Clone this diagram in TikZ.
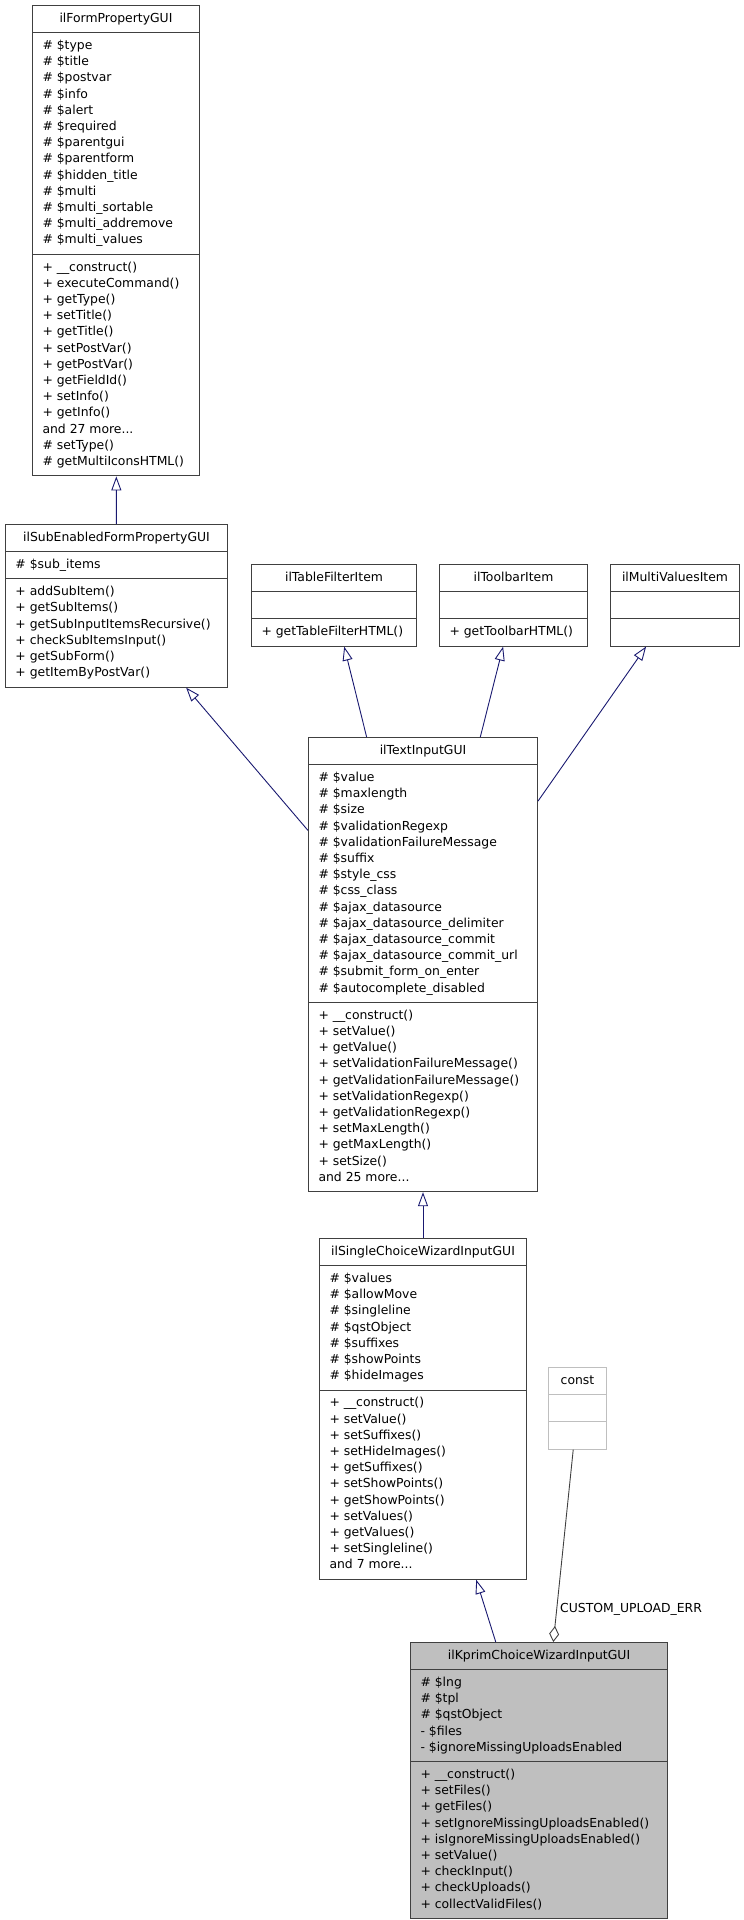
\documentclass[tikz,border=0pt]{standalone}
\usepackage{fontspec}
\setmainfont{DejaVu Sans}
\usetikzlibrary{shapes.multipart,arrows.meta}

\definecolor{rand}{HTML}{404040}
\definecolor{vererbung}{HTML}{191970}
\definecolor{grau}{HTML}{BFBFBF}

\begin{document}
\begin{tikzpicture}[
    x=1pt, y=-1pt,
    every node/.style={font=\fontsize{12.4}{16.2}\selectfont},
    klasse/.style={
        draw=rand, line width=1pt, fill=white,
        rectangle split, rectangle split parts=3,
        rectangle split part align={center,left,left},
        anchor=north west, align=left,
        inner xsep=10pt, inner ysep=5pt,
        minimum width=#1
    },
    erbt/.style={
        draw=vererbung, line width=0.9pt,
        -{Triangle[open, length=14pt, width=10pt]}
    },
    aggr/.style={
        draw=rand, line width=0.9pt,
        -{Diamond[open, length=16pt, width=10pt]}
    },
    rolle/.style={font=\fontsize{12.4}{14}\selectfont, inner sep=3pt}
]
\useasboundingbox (0,0) rectangle (744,1920);

% Basisklasse
\node[klasse=167pt] (formprop) at (32,5)
    {\strut ilFormPropertyGUI\strut
     \nodepart{two}\strut\# \$type\\
     \# \$title\\
     \# \$postvar\\
     \# \$info\\
     \# \$alert\\
     \# \$required\\
     \# \$parentgui\\
     \# \$parentform\\
     \# \$hidden\_title\\
     \# \$multi\\
     \# \$multi\_sortable\\
     \# \$multi\_addremove\\
     \# \$multi\_values\strut
     \nodepart{three}\strut+ \_\_construct()\\
     + executeCommand()\\
     + getType()\\
     + setTitle()\\
     + getTitle()\\
     + setPostVar()\\
     + getPostVar()\\
     + getFieldId()\\
     + setInfo()\\
     + getInfo()\\
     and 27 more...\\
     \# setType()\\
     \# getMultiIconsHTML()\strut};

\node[klasse=222pt] (subenabled) at (5,524)
    {\strut ilSubEnabledFormPropertyGUI\strut
     \nodepart{two}\strut\# \$sub\_items\strut
     \nodepart{three}\strut+ addSubItem()\\
     + getSubItems()\\
     + getSubInputItemsRecursive()\\
     + checkSubItemsInput()\\
     + getSubForm()\\
     + getItemByPostVar()\strut};

% Interfaces
\node[klasse=165pt] (tablefilter) at (251,564)
    {\strut ilTableFilterItem\strut
     \nodepart{two}\strut
     \nodepart{three}\strut+ getTableFilterHTML()\strut};
\node[klasse=148pt] (toolbar) at (439,564)
    {\strut ilToolbarItem\strut
     \nodepart{two}\strut
     \nodepart{three}\strut+ getToolbarHTML()\strut};
\node[klasse=129pt] (multivalues) at (610,564)
    {\strut ilMultiValuesItem\strut
     \nodepart{two}\strut
     \nodepart{three}\strut};

\node[klasse=229pt] (textinput) at (308,737)
    {\strut ilTextInputGUI\strut
     \nodepart{two}\strut\# \$value\\
     \# \$maxlength\\
     \# \$size\\
     \# \$validationRegexp\\
     \# \$validationFailureMessage\\
     \# \$suffix\\
     \# \$style\_css\\
     \# \$css\_class\\
     \# \$ajax\_datasource\\
     \# \$ajax\_datasource\_delimiter\\
     \# \$ajax\_datasource\_commit\\
     \# \$ajax\_datasource\_commit\_url\\
     \# \$submit\_form\_on\_enter\\
     \# \$autocomplete\_disabled\strut
     \nodepart{three}\strut+ \_\_construct()\\
     + setValue()\\
     + getValue()\\
     + setValidationFailureMessage()\\
     + getValidationFailureMessage()\\
     + setValidationRegexp()\\
     + getValidationRegexp()\\
     + setMaxLength()\\
     + getMaxLength()\\
     + setSize()\\
     and 25 more...\strut};

\node[klasse=207pt] (singlechoice) at (319,1238)
    {\strut ilSingleChoiceWizardInputGUI\strut
     \nodepart{two}\strut\# \$values\\
     \# \$allowMove\\
     \# \$singleline\\
     \# \$qstObject\\
     \# \$suffixes\\
     \# \$showPoints\\
     \# \$hideImages\strut
     \nodepart{three}\strut+ \_\_construct()\\
     + setValue()\\
     + setSuffixes()\\
     + setHideImages()\\
     + getSuffixes()\\
     + setShowPoints()\\
     + getShowPoints()\\
     + setValues()\\
     + getValues()\\
     + setSingleline()\\
     and 7 more...\strut};

\node[klasse=58pt, draw=grau] (const) at (548,1367)
    {\strut const\strut
     \nodepart{two}\strut
     \nodepart{three}\strut};

% betrachtete Klasse
\node[klasse=257pt, fill=grau] (kprim) at (410,1642)
    {\strut ilKprimChoiceWizardInputGUI\strut
     \nodepart{two}\strut\# \$lng\\
     \# \$tpl\\
     \# \$qstObject\\
     - \$files\\
     - \$ignoreMissingUploadsEnabled\strut
     \nodepart{three}\strut+ \_\_construct()\\
     + setFiles()\\
     + getFiles()\\
     + setIgnoreMissingUploadsEnabled()\\
     + isIgnoreMissingUploadsEnabled()\\
     + setValue()\\
     + checkInput()\\
     + checkUploads()\\
     + collectValidFiles()\strut};

% Vererbung
\draw[erbt] (subenabled) -- (formprop);
\draw[erbt] (textinput) -- (subenabled);
\draw[erbt] (textinput) -- (tablefilter);
\draw[erbt] (textinput) -- (toolbar);
\draw[erbt] (textinput) -- (multivalues);
\draw[erbt] (singlechoice) -- (textinput);
\draw[erbt] (kprim) -- (singlechoice);

% Aggregation
\draw[aggr] (const) -- node[rolle, right, pos=0.83] (uploaderr) {CUSTOM\_UPLOAD\_ERR} (kprim);

\end{tikzpicture}
\end{document}
